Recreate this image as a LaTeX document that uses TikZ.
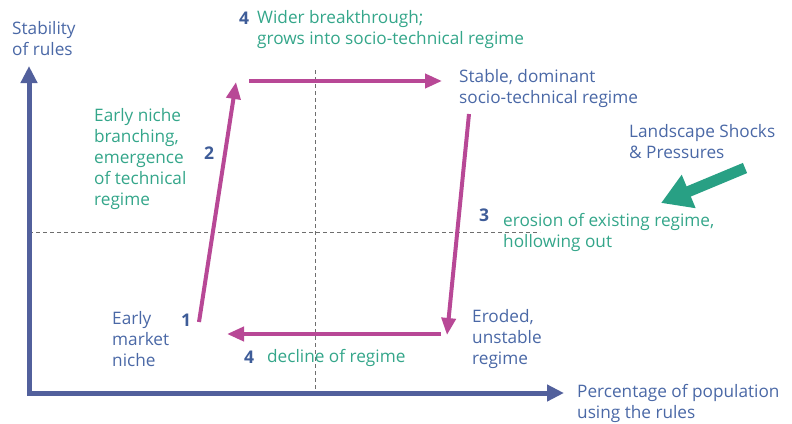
\documentclass[tikz,border=0pt]{standalone}
\usepackage{fontspec}
\setmainfont{Open Sans}
\usetikzlibrary{arrows.meta}
\definecolor{axisblue}{RGB}{82,96,156}
\definecolor{txtblue}{RGB}{74,104,166}
\definecolor{numblue}{RGB}{62,92,152}
\definecolor{tealtxt}{RGB}{52,166,138}
\definecolor{tealarrow}{RGB}{40,160,132}
\definecolor{magenta}{RGB}{184,72,150}
\definecolor{dashgrey}{RGB}{110,110,110}
\tikzset{
  lbl/.style={inner sep=0pt, align=left, font=\fontsize{17.2}{21}\selectfont},
  bluetxt/.style={lbl, text=txtblue},
  greentxt/.style={lbl, text=tealtxt},
  num/.style={inner sep=0pt, text=numblue, font=\fontsize{17.5}{20}\selectfont\bfseries},
  axisline/.style={draw=axisblue, line width=5pt, -{Triangle[length=17pt,width=16pt]}},
  phase/.style={draw=magenta, line width=4pt, -{Triangle[length=17pt,width=14pt]}},
  guide/.style={draw=dashgrey, line width=0.7pt, dash pattern=on 4pt off 3pt},
  pressure/.style={draw=tealarrow, line width=11pt, -{Triangle[length=30pt,width=34pt]}}
}
\begin{document}
\begin{tikzpicture}[x=1pt, y=-1pt]
\useasboundingbox (0,0) rectangle (792,423);

% quadrant guides
\coordinate (gl) at (29,232);
\coordinate (gr) at (540,232);
\coordinate (gt) at (315,70);
\coordinate (gb) at (315,393);
\draw[guide] (gl) -- (gr);
\draw[guide] (gt) -- (gb);

% axes
\coordinate (origin) at (29,395);
\coordinate (ytip) at (29,66);
\coordinate (xorigin) at (27,393);
\coordinate (xtip) at (564,393);
\draw[axisline] (origin) -- (ytip);
\draw[axisline] (xorigin) -- (xtip);

% cycle of the regime
\coordinate (p1) at (199,322);
\coordinate (p2) at (236,82);
\coordinate (p3) at (249,81);
\coordinate (p4) at (442,81);
\coordinate (p5) at (469,114);
\coordinate (p6) at (447,335);
\coordinate (p7) at (441,334);
\coordinate (p8) at (227,334);
\draw[phase] (p1) -- (p2);
\draw[phase] (p3) -- (p4);
\draw[phase] (p5) -- (p6);
\draw[phase] (p7) -- (p8);

% landscape pressure
\coordinate (lsA) at (745,168);
\coordinate (lsB) at (661,203);
\draw[pressure] (lsA) -- (lsB);

% labels
\node[bluetxt, anchor=west] (ylab) at (12,39) {Stability\\of rules};
\node[bluetxt, anchor=west] (xlab) at (577,403) {Percentage of population\\using the rules};

\node[num, anchor=base west] (n4a) at (239,24) {4};
\node[greentxt, anchor=west] (wider) at (257,30) {Wider breakthrough;\\grows into socio-technical regime};

\node[bluetxt, anchor=west] (stable) at (459,89) {Stable, dominant\\socio-technical regime};

\node[greentxt, anchor=west] (branch) at (94,159) {Early niche\\branching,\\emergence\\of technical\\regime};
\node[num, anchor=base west] (n2) at (204,159) {2};

\node[bluetxt, anchor=west] (land) at (629,142) {Landscape Shocks\\\& Pressures};

\node[num, anchor=base west] (n3) at (479,221) {3};
\node[greentxt, anchor=west] (erosion) at (503,232) {erosion of existing regime,\\hollowing out};

\node[bluetxt, anchor=west] (niche) at (112,339) {Early\\market\\niche};
\node[num, anchor=base west] (n1) at (181,326) {1};

\node[num, anchor=base west] (n4b) at (244,363) {4};
\node[greentxt, anchor=base west] (decline) at (267,362) {decline of regime};

\node[bluetxt, anchor=west] (eroded) at (472,339) {Eroded,\\unstable\\regime};
\end{tikzpicture}
\end{document}
